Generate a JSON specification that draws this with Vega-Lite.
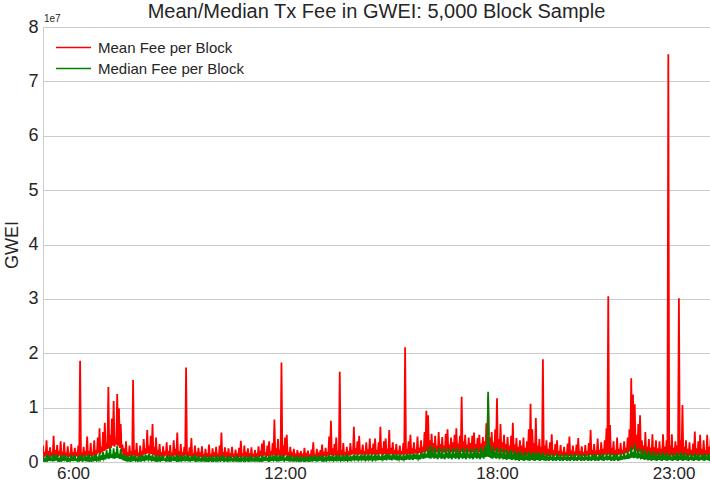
{
  "$schema": "https://vega.github.io/schema/vega-lite/v6.json",
  "width": 667,
  "height": 435,
  "autosize": "none",
  "padding": {"left": 43, "top": 27, "right": 0, "bottom": 27},
  "background": "white",
  "config": {
    "font": "Liberation Sans",
    "view": {"stroke": "#cccccc"},
    "axis": {"labelColor": "#262626", "titleColor": "#262626", "labelFont": "Liberation Sans", "titleFont": "Liberation Sans", "titleFontWeight": "normal", "ticks": false, "domainColor": "#cccccc", "gridColor": "#cccccc"},
    "legend": {"labelFont": "Liberation Sans", "labelColor": "#262626"}
  },
  "title": {"text": "Mean/Median Tx Fee in GWEI: 5,000 Block Sample", "fontSize": 20, "fontWeight": "normal", "color": "#262626", "offset": -8},
  "data": {"values": [
    {"h":5.150,"m":0.30,"d":0.10},{"h":5.175,"m":0.09,"d":0.02},{"h":5.200,"m":0.18,"d":0.05},{"h":5.225,"m":0.11,"d":0.01},
    {"h":5.250,"m":0.40,"d":0.14},{"h":5.275,"m":0.08,"d":0.03},{"h":5.300,"m":0.20,"d":0.07},{"h":5.325,"m":0.10,"d":0.02},
    {"h":5.350,"m":0.27,"d":0.12},{"h":5.375,"m":0.12,"d":0.04},{"h":5.400,"m":0.15,"d":0.06},{"h":5.425,"m":0.09,"d":0.01},
    {"h":5.450,"m":0.48,"d":0.15},{"h":5.475,"m":0.11,"d":0.02},{"h":5.500,"m":0.22,"d":0.08},{"h":5.525,"m":0.08,"d":0.03},
    {"h":5.550,"m":0.31,"d":0.13},{"h":5.575,"m":0.10,"d":0.02},{"h":5.600,"m":0.16,"d":0.05},{"h":5.625,"m":0.12,"d":0.01},
    {"h":5.650,"m":0.38,"d":0.12},{"h":5.675,"m":0.09,"d":0.03},{"h":5.700,"m":0.19,"d":0.07},{"h":5.725,"m":0.11,"d":0.02},
    {"h":5.750,"m":0.36,"d":0.14},{"h":5.775,"m":0.08,"d":0.04},{"h":5.800,"m":0.17,"d":0.06},{"h":5.825,"m":0.10,"d":0.02},
    {"h":5.850,"m":0.29,"d":0.11},{"h":5.875,"m":0.12,"d":0.01},{"h":5.900,"m":0.14,"d":0.05},{"h":5.925,"m":0.09,"d":0.03},
    {"h":5.950,"m":0.33,"d":0.13},{"h":5.975,"m":0.11,"d":0.02},{"h":6.000,"m":0.18,"d":0.07},{"h":6.025,"m":0.08,"d":0.02},
    {"h":6.050,"m":0.26,"d":0.12},{"h":6.075,"m":0.10,"d":0.04},{"h":6.100,"m":0.15,"d":0.05},{"h":6.125,"m":0.12,"d":0.01},
    {"h":6.150,"m":0.30,"d":0.11},{"h":6.175,"m":0.09,"d":0.03},{"h":6.200,"m":1.86,"d":0.08},{"h":6.225,"m":0.11,"d":0.02},
    {"h":6.250,"m":0.17,"d":0.13},{"h":6.275,"m":0.08,"d":0.02},{"h":6.300,"m":0.28,"d":0.06},{"h":6.325,"m":0.10,"d":0.04},
    {"h":6.350,"m":0.16,"d":0.12},{"h":6.375,"m":0.12,"d":0.01},{"h":6.400,"m":0.47,"d":0.07},{"h":6.425,"m":0.09,"d":0.03},
    {"h":6.450,"m":0.20,"d":0.14},{"h":6.475,"m":0.11,"d":0.02},{"h":6.500,"m":0.35,"d":0.06},{"h":6.525,"m":0.10,"d":0.02},
    {"h":6.550,"m":0.18,"d":0.12},{"h":6.575,"m":0.12,"d":0.04},{"h":6.600,"m":0.40,"d":0.08},{"h":6.625,"m":0.11,"d":0.02},
    {"h":6.650,"m":0.22,"d":0.15},{"h":6.675,"m":0.14,"d":0.03},{"h":6.700,"m":0.45,"d":0.07},{"h":6.725,"m":0.16,"d":0.04},
    {"h":6.750,"m":0.62,"d":0.16},{"h":6.775,"m":0.15,"d":0.05},{"h":6.800,"m":0.28,"d":0.09},{"h":6.825,"m":0.18,"d":0.04},
    {"h":6.850,"m":0.55,"d":0.18},{"h":6.875,"m":0.20,"d":0.06},{"h":6.900,"m":0.72,"d":0.10},{"h":6.925,"m":0.22,"d":0.05},
    {"h":6.950,"m":0.35,"d":0.22},{"h":6.975,"m":0.24,"d":0.07},{"h":7.000,"m":1.38,"d":0.12},{"h":7.025,"m":0.25,"d":0.06},
    {"h":7.050,"m":0.50,"d":0.28},{"h":7.075,"m":0.26,"d":0.08},{"h":7.100,"m":0.80,"d":0.14},{"h":7.125,"m":0.30,"d":0.07},
    {"h":7.150,"m":1.12,"d":0.25},{"h":7.175,"m":0.28,"d":0.06},{"h":7.200,"m":0.45,"d":0.13},{"h":7.225,"m":0.32,"d":0.08},
    {"h":7.250,"m":1.25,"d":0.30},{"h":7.275,"m":0.30,"d":0.07},{"h":7.300,"m":0.99,"d":0.15},{"h":7.325,"m":0.26,"d":0.06},
    {"h":7.350,"m":0.70,"d":0.24},{"h":7.375,"m":0.18,"d":0.05},{"h":7.400,"m":0.32,"d":0.10},{"h":7.425,"m":0.12,"d":0.03},
    {"h":7.450,"m":0.25,"d":0.14},{"h":7.475,"m":0.10,"d":0.02},{"h":7.500,"m":0.38,"d":0.07},{"h":7.525,"m":0.09,"d":0.03},
    {"h":7.550,"m":0.18,"d":0.12},{"h":7.575,"m":0.11,"d":0.01},{"h":7.600,"m":0.30,"d":0.06},{"h":7.625,"m":0.08,"d":0.02},
    {"h":7.650,"m":0.20,"d":0.13},{"h":7.675,"m":0.10,"d":0.04},{"h":7.700,"m":1.51,"d":0.08},{"h":7.725,"m":0.12,"d":0.02},
    {"h":7.750,"m":0.22,"d":0.12},{"h":7.775,"m":0.09,"d":0.03},{"h":7.800,"m":0.35,"d":0.06},{"h":7.825,"m":0.11,"d":0.02},
    {"h":7.850,"m":0.17,"d":0.11},{"h":7.875,"m":0.08,"d":0.01},{"h":7.900,"m":0.30,"d":0.07},{"h":7.925,"m":0.10,"d":0.03},
    {"h":7.950,"m":0.20,"d":0.13},{"h":7.975,"m":0.12,"d":0.02},{"h":8.000,"m":0.42,"d":0.08},{"h":8.025,"m":0.14,"d":0.04},
    {"h":8.050,"m":0.25,"d":0.14},{"h":8.075,"m":0.15,"d":0.03},{"h":8.100,"m":0.59,"d":0.09},{"h":8.125,"m":0.16,"d":0.05},
    {"h":8.150,"m":0.30,"d":0.15},{"h":8.175,"m":0.14,"d":0.03},{"h":8.200,"m":0.48,"d":0.08},{"h":8.225,"m":0.15,"d":0.04},
    {"h":8.250,"m":0.70,"d":0.14},{"h":8.275,"m":0.13,"d":0.02},{"h":8.300,"m":0.28,"d":0.07},{"h":8.325,"m":0.11,"d":0.03},
    {"h":8.350,"m":0.45,"d":0.12},{"h":8.375,"m":0.10,"d":0.02},{"h":8.400,"m":0.22,"d":0.06},{"h":8.425,"m":0.09,"d":0.01},
    {"h":8.450,"m":0.33,"d":0.13},{"h":8.475,"m":0.11,"d":0.03},{"h":8.500,"m":0.18,"d":0.07},{"h":8.525,"m":0.08,"d":0.02},
    {"h":8.550,"m":0.29,"d":0.12},{"h":8.575,"m":0.10,"d":0.04},{"h":8.600,"m":0.16,"d":0.05},{"h":8.625,"m":0.12,"d":0.02},
    {"h":8.650,"m":0.36,"d":0.11},{"h":8.675,"m":0.09,"d":0.01},{"h":8.700,"m":0.20,"d":0.07},{"h":8.725,"m":0.11,"d":0.03},
    {"h":8.750,"m":0.31,"d":0.13},{"h":8.775,"m":0.08,"d":0.02},{"h":8.800,"m":0.17,"d":0.06},{"h":8.825,"m":0.10,"d":0.04},
    {"h":8.850,"m":0.40,"d":0.12},{"h":8.875,"m":0.12,"d":0.02},{"h":8.900,"m":0.24,"d":0.07},{"h":8.925,"m":0.11,"d":0.03},
    {"h":8.950,"m":0.54,"d":0.14},{"h":8.975,"m":0.09,"d":0.02},{"h":9.000,"m":0.20,"d":0.06},{"h":9.025,"m":0.10,"d":0.01},
    {"h":9.050,"m":0.33,"d":0.12},{"h":9.075,"m":0.08,"d":0.03},{"h":9.100,"m":0.18,"d":0.07},{"h":9.125,"m":0.11,"d":0.02},
    {"h":9.150,"m":0.28,"d":0.13},{"h":9.175,"m":0.12,"d":0.04},{"h":9.200,"m":1.74,"d":0.08},{"h":9.225,"m":0.10,"d":0.02},
    {"h":9.250,"m":0.19,"d":0.12},{"h":9.275,"m":0.09,"d":0.01},{"h":9.300,"m":0.27,"d":0.06},{"h":9.325,"m":0.11,"d":0.03},
    {"h":9.350,"m":0.44,"d":0.11},{"h":9.375,"m":0.08,"d":0.02},{"h":9.400,"m":0.16,"d":0.07},{"h":9.425,"m":0.10,"d":0.04},
    {"h":9.450,"m":0.30,"d":0.13},{"h":9.475,"m":0.12,"d":0.02},{"h":9.500,"m":0.15,"d":0.06},{"h":9.525,"m":0.09,"d":0.01},
    {"h":9.550,"m":0.26,"d":0.11},{"h":9.575,"m":0.08,"d":0.03},{"h":9.600,"m":0.14,"d":0.05},{"h":9.625,"m":0.10,"d":0.02},
    {"h":9.650,"m":0.29,"d":0.10},{"h":9.675,"m":0.07,"d":0.01},{"h":9.700,"m":0.15,"d":0.06},{"h":9.725,"m":0.09,"d":0.03},
    {"h":9.750,"m":0.24,"d":0.12},{"h":9.775,"m":0.08,"d":0.02},{"h":9.800,"m":0.13,"d":0.05},{"h":9.825,"m":0.10,"d":0.01},
    {"h":9.850,"m":0.32,"d":0.10},{"h":9.875,"m":0.07,"d":0.03},{"h":9.900,"m":0.15,"d":0.06},{"h":9.925,"m":0.09,"d":0.02},
    {"h":9.950,"m":0.25,"d":0.11},{"h":9.975,"m":0.08,"d":0.01},{"h":10.000,"m":0.14,"d":0.05},{"h":10.025,"m":0.10,"d":0.03},
    {"h":10.050,"m":0.28,"d":0.12},{"h":10.075,"m":0.07,"d":0.02},{"h":10.100,"m":0.16,"d":0.06},{"h":10.125,"m":0.09,"d":0.01},
    {"h":10.150,"m":0.30,"d":0.10},{"h":10.175,"m":0.08,"d":0.03},{"h":10.200,"m":0.54,"d":0.07},{"h":10.225,"m":0.10,"d":0.02},
    {"h":10.250,"m":0.18,"d":0.12},{"h":10.275,"m":0.07,"d":0.01},{"h":10.300,"m":0.27,"d":0.05},{"h":10.325,"m":0.09,"d":0.03},
    {"h":10.350,"m":0.14,"d":0.10},{"h":10.375,"m":0.08,"d":0.02},{"h":10.400,"m":0.25,"d":0.06},{"h":10.425,"m":0.10,"d":0.01},
    {"h":10.450,"m":0.13,"d":0.11},{"h":10.475,"m":0.07,"d":0.03},{"h":10.500,"m":0.28,"d":0.05},{"h":10.525,"m":0.09,"d":0.02},
    {"h":10.550,"m":0.15,"d":0.10},{"h":10.575,"m":0.08,"d":0.01},{"h":10.600,"m":0.23,"d":0.06},{"h":10.625,"m":0.10,"d":0.03},
    {"h":10.650,"m":0.13,"d":0.12},{"h":10.675,"m":0.07,"d":0.02},{"h":10.700,"m":0.26,"d":0.05},{"h":10.725,"m":0.09,"d":0.01},
    {"h":10.750,"m":0.39,"d":0.10},{"h":10.775,"m":0.08,"d":0.03},{"h":10.800,"m":0.16,"d":0.06},{"h":10.825,"m":0.10,"d":0.02},
    {"h":10.850,"m":0.30,"d":0.11},{"h":10.875,"m":0.07,"d":0.01},{"h":10.900,"m":0.14,"d":0.05},{"h":10.925,"m":0.09,"d":0.03},
    {"h":10.950,"m":0.25,"d":0.10},{"h":10.975,"m":0.08,"d":0.02},{"h":11.000,"m":0.13,"d":0.06},{"h":11.025,"m":0.10,"d":0.01},
    {"h":11.050,"m":0.27,"d":0.12},{"h":11.075,"m":0.07,"d":0.03},{"h":11.100,"m":0.15,"d":0.05},{"h":11.125,"m":0.09,"d":0.02},
    {"h":11.150,"m":0.22,"d":0.10},{"h":11.175,"m":0.08,"d":0.01},{"h":11.200,"m":0.13,"d":0.06},{"h":11.225,"m":0.10,"d":0.03},
    {"h":11.250,"m":0.29,"d":0.11},{"h":11.275,"m":0.09,"d":0.02},{"h":11.300,"m":0.16,"d":0.05},{"h":11.325,"m":0.11,"d":0.01},
    {"h":11.350,"m":0.34,"d":0.12},{"h":11.375,"m":0.10,"d":0.03},{"h":11.400,"m":0.40,"d":0.07},{"h":11.425,"m":0.12,"d":0.02},
    {"h":11.450,"m":0.18,"d":0.11},{"h":11.475,"m":0.09,"d":0.04},{"h":11.500,"m":0.30,"d":0.06},{"h":11.525,"m":0.11,"d":0.02},
    {"h":11.550,"m":0.38,"d":0.12},{"h":11.575,"m":0.10,"d":0.03},{"h":11.600,"m":0.20,"d":0.07},{"h":11.625,"m":0.12,"d":0.02},
    {"h":11.650,"m":0.35,"d":0.13},{"h":11.675,"m":0.13,"d":0.04},{"h":11.700,"m":0.78,"d":0.08},{"h":11.725,"m":0.11,"d":0.02},
    {"h":11.750,"m":0.25,"d":0.12},{"h":11.775,"m":0.10,"d":0.03},{"h":11.800,"m":0.42,"d":0.07},{"h":11.825,"m":0.12,"d":0.01},
    {"h":11.850,"m":0.22,"d":0.13},{"h":11.875,"m":0.09,"d":0.02},{"h":11.900,"m":1.83,"d":0.08},{"h":11.925,"m":0.11,"d":0.03},
    {"h":11.950,"m":0.30,"d":0.12},{"h":11.975,"m":0.10,"d":0.02},{"h":12.000,"m":0.45,"d":0.06},{"h":12.025,"m":0.12,"d":0.04},
    {"h":12.050,"m":0.50,"d":0.11},{"h":12.075,"m":0.09,"d":0.02},{"h":12.100,"m":0.18,"d":0.07},{"h":12.125,"m":0.08,"d":0.01},
    {"h":12.150,"m":0.28,"d":0.12},{"h":12.175,"m":0.07,"d":0.03},{"h":12.200,"m":0.14,"d":0.05},{"h":12.225,"m":0.09,"d":0.02},
    {"h":12.250,"m":0.24,"d":0.10},{"h":12.275,"m":0.07,"d":0.01},{"h":12.300,"m":0.12,"d":0.06},{"h":12.325,"m":0.08,"d":0.03},
    {"h":12.350,"m":0.22,"d":0.11},{"h":12.375,"m":0.07,"d":0.02},{"h":12.400,"m":0.13,"d":0.05},{"h":12.425,"m":0.09,"d":0.01},
    {"h":12.450,"m":0.20,"d":0.10},{"h":12.475,"m":0.07,"d":0.03},{"h":12.500,"m":0.12,"d":0.06},{"h":12.525,"m":0.08,"d":0.02},
    {"h":12.550,"m":0.26,"d":0.11},{"h":12.575,"m":0.07,"d":0.01},{"h":12.600,"m":0.13,"d":0.05},{"h":12.625,"m":0.09,"d":0.03},
    {"h":12.650,"m":0.21,"d":0.10},{"h":12.675,"m":0.07,"d":0.02},{"h":12.700,"m":0.14,"d":0.06},{"h":12.725,"m":0.08,"d":0.01},
    {"h":12.750,"m":0.23,"d":0.11},{"h":12.775,"m":0.09,"d":0.03},{"h":12.800,"m":0.36,"d":0.07},{"h":12.825,"m":0.08,"d":0.02},
    {"h":12.850,"m":0.15,"d":0.12},{"h":12.875,"m":0.07,"d":0.01},{"h":12.900,"m":0.24,"d":0.06},{"h":12.925,"m":0.09,"d":0.03},
    {"h":12.950,"m":0.14,"d":0.11},{"h":12.975,"m":0.08,"d":0.02},{"h":13.000,"m":0.22,"d":0.07},{"h":13.025,"m":0.10,"d":0.04},
    {"h":13.050,"m":0.32,"d":0.12},{"h":13.075,"m":0.09,"d":0.02},{"h":13.100,"m":0.15,"d":0.06},{"h":13.125,"m":0.11,"d":0.01},
    {"h":13.150,"m":0.26,"d":0.11},{"h":13.175,"m":0.10,"d":0.03},{"h":13.200,"m":0.18,"d":0.07},{"h":13.225,"m":0.12,"d":0.02},
    {"h":13.250,"m":0.47,"d":0.13},{"h":13.275,"m":0.13,"d":0.04},{"h":13.300,"m":0.76,"d":0.08},{"h":13.325,"m":0.12,"d":0.02},
    {"h":13.350,"m":0.25,"d":0.12},{"h":13.375,"m":0.11,"d":0.03},{"h":13.400,"m":0.33,"d":0.07},{"h":13.425,"m":0.12,"d":0.02},
    {"h":13.450,"m":0.45,"d":0.13},{"h":13.475,"m":0.10,"d":0.04},{"h":13.500,"m":0.20,"d":0.08},{"h":13.525,"m":0.11,"d":0.02},
    {"h":13.550,"m":1.66,"d":0.12},{"h":13.575,"m":0.12,"d":0.03},{"h":13.600,"m":0.22,"d":0.07},{"h":13.625,"m":0.10,"d":0.02},
    {"h":13.650,"m":0.35,"d":0.13},{"h":13.675,"m":0.12,"d":0.04},{"h":13.700,"m":0.18,"d":0.08},{"h":13.725,"m":0.11,"d":0.02},
    {"h":13.750,"m":0.28,"d":0.14},{"h":13.775,"m":0.10,"d":0.03},{"h":13.800,"m":0.16,"d":0.07},{"h":13.825,"m":0.12,"d":0.02},
    {"h":13.850,"m":0.35,"d":0.12},{"h":13.875,"m":0.13,"d":0.04},{"h":13.900,"m":0.22,"d":0.08},{"h":13.925,"m":0.14,"d":0.03},
    {"h":13.950,"m":0.65,"d":0.13},{"h":13.975,"m":0.13,"d":0.05},{"h":14.000,"m":0.25,"d":0.09},{"h":14.025,"m":0.14,"d":0.03},
    {"h":14.050,"m":0.38,"d":0.14},{"h":14.075,"m":0.13,"d":0.04},{"h":14.100,"m":0.48,"d":0.08},{"h":14.125,"m":0.14,"d":0.03},
    {"h":14.150,"m":0.22,"d":0.13},{"h":14.175,"m":0.13,"d":0.05},{"h":14.200,"m":0.32,"d":0.09},{"h":14.225,"m":0.14,"d":0.03},
    {"h":14.250,"m":0.20,"d":0.15},{"h":14.275,"m":0.12,"d":0.04},{"h":14.300,"m":0.36,"d":0.08},{"h":14.325,"m":0.14,"d":0.03},
    {"h":14.350,"m":0.23,"d":0.14},{"h":14.375,"m":0.13,"d":0.05},{"h":14.400,"m":0.43,"d":0.09},{"h":14.425,"m":0.15,"d":0.03},
    {"h":14.450,"m":0.25,"d":0.15},{"h":14.475,"m":0.13,"d":0.04},{"h":14.500,"m":0.34,"d":0.08},{"h":14.525,"m":0.14,"d":0.03},
    {"h":14.550,"m":0.43,"d":0.14},{"h":14.575,"m":0.13,"d":0.05},{"h":14.600,"m":0.22,"d":0.09},{"h":14.625,"m":0.14,"d":0.03},
    {"h":14.650,"m":0.36,"d":0.15},{"h":14.675,"m":0.15,"d":0.04},{"h":14.700,"m":0.65,"d":0.10},{"h":14.725,"m":0.14,"d":0.03},
    {"h":14.750,"m":0.25,"d":0.14},{"h":14.775,"m":0.13,"d":0.05},{"h":14.800,"m":0.38,"d":0.09},{"h":14.825,"m":0.15,"d":0.04},
    {"h":14.850,"m":0.43,"d":0.15},{"h":14.875,"m":0.14,"d":0.03},{"h":14.900,"m":0.24,"d":0.10},{"h":14.925,"m":0.13,"d":0.05},
    {"h":14.950,"m":0.59,"d":0.14},{"h":14.975,"m":0.14,"d":0.04},{"h":15.000,"m":0.26,"d":0.09},{"h":15.025,"m":0.15,"d":0.03},
    {"h":15.050,"m":0.36,"d":0.15},{"h":15.075,"m":0.13,"d":0.05},{"h":15.100,"m":0.22,"d":0.10},{"h":15.125,"m":0.14,"d":0.04},
    {"h":15.150,"m":0.33,"d":0.14},{"h":15.175,"m":0.13,"d":0.03},{"h":15.200,"m":0.21,"d":0.09},{"h":15.225,"m":0.14,"d":0.05},
    {"h":15.250,"m":0.30,"d":0.15},{"h":15.275,"m":0.12,"d":0.04},{"h":15.300,"m":0.20,"d":0.10},{"h":15.325,"m":0.14,"d":0.03},
    {"h":15.350,"m":0.35,"d":0.14},{"h":15.375,"m":0.13,"d":0.05},{"h":15.400,"m":2.11,"d":0.09},{"h":15.425,"m":0.14,"d":0.04},
    {"h":15.450,"m":0.24,"d":0.15},{"h":15.475,"m":0.15,"d":0.05},{"h":15.500,"m":0.38,"d":0.10},{"h":15.525,"m":0.14,"d":0.04},
    {"h":15.550,"m":0.50,"d":0.16},{"h":15.575,"m":0.15,"d":0.05},{"h":15.600,"m":0.25,"d":0.10},{"h":15.625,"m":0.14,"d":0.04},
    {"h":15.650,"m":0.36,"d":0.15},{"h":15.675,"m":0.16,"d":0.06},{"h":15.700,"m":0.23,"d":0.11},{"h":15.725,"m":0.15,"d":0.05},
    {"h":15.750,"m":0.47,"d":0.16},{"h":15.775,"m":0.16,"d":0.06},{"h":15.800,"m":0.26,"d":0.10},{"h":15.825,"m":0.17,"d":0.05},
    {"h":15.850,"m":0.40,"d":0.17},{"h":15.875,"m":0.16,"d":0.07},{"h":15.900,"m":0.28,"d":0.12},{"h":15.925,"m":0.18,"d":0.06},
    {"h":15.950,"m":0.55,"d":0.20},{"h":15.975,"m":0.18,"d":0.07},{"h":16.000,"m":0.94,"d":0.15},{"h":16.025,"m":0.20,"d":0.08},
    {"h":16.050,"m":0.86,"d":0.28},{"h":16.075,"m":0.18,"d":0.07},{"h":16.100,"m":0.40,"d":0.18},{"h":16.125,"m":0.17,"d":0.06},
    {"h":16.150,"m":0.52,"d":0.30},{"h":16.175,"m":0.19,"d":0.08},{"h":16.200,"m":0.35,"d":0.17},{"h":16.225,"m":0.16,"d":0.06},
    {"h":16.250,"m":0.48,"d":0.26},{"h":16.275,"m":0.18,"d":0.07},{"h":16.300,"m":0.30,"d":0.15},{"h":16.325,"m":0.17,"d":0.05},
    {"h":16.350,"m":0.55,"d":0.27},{"h":16.375,"m":0.19,"d":0.08},{"h":16.400,"m":0.33,"d":0.16},{"h":16.425,"m":0.16,"d":0.06},
    {"h":16.450,"m":0.46,"d":0.25},{"h":16.475,"m":0.18,"d":0.07},{"h":16.500,"m":0.30,"d":0.14},{"h":16.525,"m":0.17,"d":0.05},
    {"h":16.550,"m":0.52,"d":0.26},{"h":16.575,"m":0.19,"d":0.08},{"h":16.600,"m":0.60,"d":0.17},{"h":16.625,"m":0.18,"d":0.06},
    {"h":16.650,"m":0.32,"d":0.24},{"h":16.675,"m":0.16,"d":0.07},{"h":16.700,"m":0.45,"d":0.15},{"h":16.725,"m":0.18,"d":0.05},
    {"h":16.750,"m":0.36,"d":0.25},{"h":16.775,"m":0.17,"d":0.08},{"h":16.800,"m":0.50,"d":0.16},{"h":16.825,"m":0.19,"d":0.06},
    {"h":16.850,"m":0.62,"d":0.27},{"h":16.875,"m":0.18,"d":0.07},{"h":16.900,"m":0.34,"d":0.17},{"h":16.925,"m":0.16,"d":0.05},
    {"h":16.950,"m":0.48,"d":0.24},{"h":16.975,"m":0.18,"d":0.08},{"h":17.000,"m":1.20,"d":0.16},{"h":17.025,"m":0.19,"d":0.06},
    {"h":17.050,"m":0.38,"d":0.26},{"h":17.075,"m":0.17,"d":0.07},{"h":17.100,"m":0.50,"d":0.17},{"h":17.125,"m":0.18,"d":0.05},
    {"h":17.150,"m":0.32,"d":0.25},{"h":17.175,"m":0.16,"d":0.08},{"h":17.200,"m":0.45,"d":0.15},{"h":17.225,"m":0.19,"d":0.06},
    {"h":17.250,"m":0.35,"d":0.24},{"h":17.275,"m":0.17,"d":0.07},{"h":17.300,"m":0.48,"d":0.16},{"h":17.325,"m":0.18,"d":0.05},
    {"h":17.350,"m":0.54,"d":0.26},{"h":17.375,"m":0.16,"d":0.08},{"h":17.400,"m":0.33,"d":0.17},{"h":17.425,"m":0.19,"d":0.06},
    {"h":17.450,"m":0.44,"d":0.25},{"h":17.475,"m":0.18,"d":0.07},{"h":17.500,"m":0.50,"d":0.16},{"h":17.525,"m":0.17,"d":0.05},
    {"h":17.550,"m":0.34,"d":0.27},{"h":17.575,"m":0.19,"d":0.08},{"h":17.600,"m":0.46,"d":0.18},{"h":17.625,"m":0.18,"d":0.06},
    {"h":17.650,"m":0.38,"d":0.28},{"h":17.675,"m":0.20,"d":0.09},{"h":17.700,"m":0.71,"d":0.30},{"h":17.725,"m":0.22,"d":0.10},
    {"h":17.750,"m":1.20,"d":1.29},{"h":17.775,"m":0.20,"d":0.09},{"h":17.800,"m":0.45,"d":0.32},{"h":17.825,"m":0.19,"d":0.07},
    {"h":17.850,"m":0.55,"d":0.20},{"h":17.875,"m":0.18,"d":0.06},{"h":17.900,"m":0.36,"d":0.28},{"h":17.925,"m":0.20,"d":0.08},
    {"h":17.950,"m":0.60,"d":0.18},{"h":17.975,"m":0.19,"d":0.06},{"h":18.000,"m":1.17,"d":0.26},{"h":18.025,"m":0.18,"d":0.07},
    {"h":18.050,"m":0.42,"d":0.17},{"h":18.075,"m":0.17,"d":0.05},{"h":18.100,"m":0.70,"d":0.25},{"h":18.125,"m":0.18,"d":0.07},
    {"h":18.150,"m":0.36,"d":0.16},{"h":18.175,"m":0.16,"d":0.05},{"h":18.200,"m":0.50,"d":0.24},{"h":18.225,"m":0.17,"d":0.06},
    {"h":18.250,"m":0.33,"d":0.15},{"h":18.275,"m":0.15,"d":0.04},{"h":18.300,"m":0.46,"d":0.23},{"h":18.325,"m":0.16,"d":0.06},
    {"h":18.350,"m":0.30,"d":0.16},{"h":18.375,"m":0.15,"d":0.05},{"h":18.400,"m":0.48,"d":0.22},{"h":18.425,"m":0.16,"d":0.04},
    {"h":18.450,"m":0.72,"d":0.15},{"h":18.475,"m":0.14,"d":0.05},{"h":18.500,"m":0.32,"d":0.21},{"h":18.525,"m":0.13,"d":0.03},
    {"h":18.550,"m":0.44,"d":0.14},{"h":18.575,"m":0.12,"d":0.04},{"h":18.600,"m":0.28,"d":0.20},{"h":18.625,"m":0.13,"d":0.02},
    {"h":18.650,"m":0.40,"d":0.13},{"h":18.675,"m":0.11,"d":0.04},{"h":18.700,"m":0.30,"d":0.19},{"h":18.725,"m":0.12,"d":0.03},
    {"h":18.750,"m":0.45,"d":0.12},{"h":18.775,"m":0.11,"d":0.02},{"h":18.800,"m":0.26,"d":0.18},{"h":18.825,"m":0.12,"d":0.04},
    {"h":18.850,"m":0.38,"d":0.12},{"h":18.875,"m":0.13,"d":0.03},{"h":18.900,"m":0.60,"d":0.19},{"h":18.925,"m":0.12,"d":0.02},
    {"h":18.950,"m":1.07,"d":0.13},{"h":18.975,"m":0.13,"d":0.04},{"h":19.000,"m":0.60,"d":0.18},{"h":19.025,"m":0.12,"d":0.03},
    {"h":19.050,"m":0.35,"d":0.12},{"h":19.075,"m":0.11,"d":0.02},{"h":19.100,"m":0.81,"d":0.19},{"h":19.125,"m":0.12,"d":0.04},
    {"h":19.150,"m":0.30,"d":0.13},{"h":19.175,"m":0.13,"d":0.03},{"h":19.200,"m":0.42,"d":0.18},{"h":19.225,"m":0.11,"d":0.02},
    {"h":19.250,"m":0.28,"d":0.12},{"h":19.275,"m":0.12,"d":0.04},{"h":19.300,"m":1.89,"d":0.17},{"h":19.325,"m":0.11,"d":0.03},
    {"h":19.350,"m":0.30,"d":0.11},{"h":19.375,"m":0.12,"d":0.02},{"h":19.400,"m":0.40,"d":0.16},{"h":19.425,"m":0.10,"d":0.03},
    {"h":19.450,"m":0.24,"d":0.10},{"h":19.475,"m":0.11,"d":0.02},{"h":19.500,"m":0.36,"d":0.16},{"h":19.525,"m":0.12,"d":0.04},
    {"h":19.550,"m":0.51,"d":0.10},{"h":19.575,"m":0.10,"d":0.02},{"h":19.600,"m":0.22,"d":0.15},{"h":19.625,"m":0.11,"d":0.03},
    {"h":19.650,"m":0.33,"d":0.09},{"h":19.675,"m":0.12,"d":0.02},{"h":19.700,"m":0.40,"d":0.15},{"h":19.725,"m":0.10,"d":0.04},
    {"h":19.750,"m":0.20,"d":0.10},{"h":19.775,"m":0.11,"d":0.02},{"h":19.800,"m":0.31,"d":0.14},{"h":19.825,"m":0.12,"d":0.03},
    {"h":19.850,"m":0.19,"d":0.09},{"h":19.875,"m":0.10,"d":0.02},{"h":19.900,"m":0.28,"d":0.14},{"h":19.925,"m":0.11,"d":0.04},
    {"h":19.950,"m":0.18,"d":0.10},{"h":19.975,"m":0.12,"d":0.02},{"h":20.000,"m":0.34,"d":0.15},{"h":20.025,"m":0.10,"d":0.03},
    {"h":20.050,"m":0.47,"d":0.09},{"h":20.075,"m":0.11,"d":0.02},{"h":20.100,"m":0.21,"d":0.14},{"h":20.125,"m":0.12,"d":0.04},
    {"h":20.150,"m":0.30,"d":0.10},{"h":20.175,"m":0.10,"d":0.02},{"h":20.200,"m":0.19,"d":0.15},{"h":20.225,"m":0.11,"d":0.03},
    {"h":20.250,"m":0.32,"d":0.09},{"h":20.275,"m":0.12,"d":0.02},{"h":20.300,"m":0.44,"d":0.14},{"h":20.325,"m":0.10,"d":0.04},
    {"h":20.350,"m":0.20,"d":0.10},{"h":20.375,"m":0.11,"d":0.02},{"h":20.400,"m":0.29,"d":0.15},{"h":20.425,"m":0.12,"d":0.03},
    {"h":20.450,"m":0.18,"d":0.09},{"h":20.475,"m":0.10,"d":0.02},{"h":20.500,"m":0.31,"d":0.14},{"h":20.525,"m":0.11,"d":0.04},
    {"h":20.550,"m":0.20,"d":0.10},{"h":20.575,"m":0.12,"d":0.02},{"h":20.600,"m":0.35,"d":0.15},{"h":20.625,"m":0.13,"d":0.03},
    {"h":20.650,"m":0.59,"d":0.10},{"h":20.675,"m":0.12,"d":0.02},{"h":20.700,"m":0.22,"d":0.14},{"h":20.725,"m":0.11,"d":0.04},
    {"h":20.750,"m":0.33,"d":0.09},{"h":20.775,"m":0.12,"d":0.02},{"h":20.800,"m":0.21,"d":0.15},{"h":20.825,"m":0.13,"d":0.03},
    {"h":20.850,"m":0.43,"d":0.10},{"h":20.875,"m":0.12,"d":0.02},{"h":20.900,"m":0.22,"d":0.14},{"h":20.925,"m":0.11,"d":0.04},
    {"h":20.950,"m":0.36,"d":0.09},{"h":20.975,"m":0.13,"d":0.03},{"h":21.000,"m":0.24,"d":0.15},{"h":21.025,"m":0.12,"d":0.02},
    {"h":21.050,"m":0.40,"d":0.10},{"h":21.075,"m":0.14,"d":0.04},{"h":21.100,"m":0.62,"d":0.16},{"h":21.125,"m":0.13,"d":0.03},
    {"h":21.150,"m":3.05,"d":0.11},{"h":21.175,"m":0.14,"d":0.04},{"h":21.200,"m":0.68,"d":0.17},{"h":21.225,"m":0.12,"d":0.02},
    {"h":21.250,"m":0.26,"d":0.10},{"h":21.275,"m":0.13,"d":0.03},{"h":21.300,"m":0.38,"d":0.15},{"h":21.325,"m":0.11,"d":0.02},
    {"h":21.350,"m":0.22,"d":0.09},{"h":21.375,"m":0.12,"d":0.04},{"h":21.400,"m":0.45,"d":0.15},{"h":21.425,"m":0.13,"d":0.02},
    {"h":21.450,"m":0.24,"d":0.10},{"h":21.475,"m":0.14,"d":0.03},{"h":21.500,"m":0.35,"d":0.16},{"h":21.525,"m":0.13,"d":0.04},
    {"h":21.550,"m":0.22,"d":0.11},{"h":21.575,"m":0.15,"d":0.05},{"h":21.600,"m":0.38,"d":0.17},{"h":21.625,"m":0.16,"d":0.05},
    {"h":21.650,"m":0.26,"d":0.12},{"h":21.675,"m":0.17,"d":0.06},{"h":21.700,"m":0.45,"d":0.20},{"h":21.725,"m":0.18,"d":0.06},
    {"h":21.750,"m":0.60,"d":0.15},{"h":21.775,"m":0.20,"d":0.07},{"h":21.800,"m":1.54,"d":0.28},{"h":21.825,"m":0.22,"d":0.08},
    {"h":21.850,"m":1.24,"d":0.18},{"h":21.875,"m":0.24,"d":0.07},{"h":21.900,"m":1.06,"d":0.32},{"h":21.925,"m":0.20,"d":0.08},
    {"h":21.950,"m":0.50,"d":0.17},{"h":21.975,"m":0.18,"d":0.06},{"h":22.000,"m":0.70,"d":0.25},{"h":22.025,"m":0.19,"d":0.07},
    {"h":22.050,"m":0.86,"d":0.16},{"h":22.075,"m":0.17,"d":0.05},{"h":22.100,"m":0.40,"d":0.24},{"h":22.125,"m":0.15,"d":0.06},
    {"h":22.150,"m":0.30,"d":0.14},{"h":22.175,"m":0.14,"d":0.04},{"h":22.200,"m":0.55,"d":0.22},{"h":22.225,"m":0.13,"d":0.05},
    {"h":22.250,"m":0.28,"d":0.13},{"h":22.275,"m":0.12,"d":0.03},{"h":22.300,"m":0.42,"d":0.20},{"h":22.325,"m":0.13,"d":0.04},
    {"h":22.350,"m":0.26,"d":0.12},{"h":22.375,"m":0.11,"d":0.02},{"h":22.400,"m":0.51,"d":0.19},{"h":22.425,"m":0.12,"d":0.04},
    {"h":22.450,"m":0.27,"d":0.12},{"h":22.475,"m":0.11,"d":0.03},{"h":22.500,"m":0.40,"d":0.18},{"h":22.525,"m":0.12,"d":0.02},
    {"h":22.550,"m":0.25,"d":0.11},{"h":22.575,"m":0.10,"d":0.04},{"h":22.600,"m":0.38,"d":0.17},{"h":22.625,"m":0.12,"d":0.03},
    {"h":22.650,"m":0.24,"d":0.11},{"h":22.675,"m":0.11,"d":0.02},{"h":22.700,"m":0.51,"d":0.18},{"h":22.725,"m":0.12,"d":0.04},
    {"h":22.750,"m":0.28,"d":0.12},{"h":22.775,"m":0.10,"d":0.03},{"h":22.800,"m":0.40,"d":0.17},{"h":22.825,"m":0.12,"d":0.02},
    {"h":22.850,"m":7.50,"d":0.11},{"h":22.875,"m":0.11,"d":0.04},{"h":22.900,"m":0.30,"d":0.16},{"h":22.925,"m":0.12,"d":0.03},
    {"h":22.950,"m":0.51,"d":0.10},{"h":22.975,"m":0.10,"d":0.02},{"h":23.000,"m":0.26,"d":0.16},{"h":23.025,"m":0.12,"d":0.04},
    {"h":23.050,"m":0.38,"d":0.11},{"h":23.075,"m":0.11,"d":0.03},{"h":23.100,"m":0.30,"d":0.17},{"h":23.125,"m":0.12,"d":0.02},
    {"h":23.150,"m":3.01,"d":0.12},{"h":23.175,"m":0.13,"d":0.04},{"h":23.200,"m":0.40,"d":0.18},{"h":23.225,"m":0.12,"d":0.03},
    {"h":23.250,"m":1.05,"d":0.12},{"h":23.275,"m":0.11,"d":0.02},{"h":23.300,"m":0.28,"d":0.17},{"h":23.325,"m":0.12,"d":0.04},
    {"h":23.350,"m":0.40,"d":0.11},{"h":23.375,"m":0.10,"d":0.03},{"h":23.400,"m":0.24,"d":0.16},{"h":23.425,"m":0.11,"d":0.02},
    {"h":23.450,"m":0.36,"d":0.10},{"h":23.475,"m":0.12,"d":0.04},{"h":23.500,"m":0.22,"d":0.15},{"h":23.525,"m":0.10,"d":0.03},
    {"h":23.550,"m":0.34,"d":0.10},{"h":23.575,"m":0.11,"d":0.02},{"h":23.600,"m":0.56,"d":0.16},{"h":23.625,"m":0.12,"d":0.04},
    {"h":23.650,"m":0.25,"d":0.11},{"h":23.675,"m":0.10,"d":0.03},{"h":23.700,"m":0.38,"d":0.16},{"h":23.725,"m":0.11,"d":0.02},
    {"h":23.750,"m":0.50,"d":0.10},{"h":23.775,"m":0.12,"d":0.04},{"h":23.800,"m":0.24,"d":0.15},{"h":23.825,"m":0.10,"d":0.03},
    {"h":23.850,"m":0.40,"d":0.11},{"h":23.875,"m":0.11,"d":0.02},{"h":23.900,"m":0.22,"d":0.16},{"h":23.925,"m":0.12,"d":0.04},
    {"h":23.950,"m":0.50,"d":0.10},{"h":23.975,"m":0.10,"d":0.03},{"h":24.000,"m":0.28,"d":0.15},{"h":24.025,"m":0.11,"d":0.02},
    {"h":24.050,"m":0.45,"d":0.11}
  ]},
  "layer": [
    {
      "mark": {"type": "line", "strokeWidth": 1.8, "clip": true},
      "encoding": {
        "x": {
          "field": "h",
          "type": "quantitative",
          "scale": {"domain": [5.15, 24.03], "nice": false, "zero": false},
          "axis": {"title": null, "values": [6, 12, 18, 23], "labelExpr": "datum.value + ':00'", "grid": false, "domain": false, "labelFontSize": 17, "labelPadding": 3}
        },
        "y": {"field": "m", "type": "quantitative", "scale": {"domain": [0, 8], "nice": false},
          "axis": {"title": "GWEI", "values": [0, 1, 2, 3, 4, 5, 6, 7, 8], "format": "d", "labelFontSize": 18, "titleFontSize": 18, "labelPadding": 5, "titlePadding": 6, "domain": true}},
        "color": {"datum": "Mean Fee per Block",
          "scale": {"domain": ["Mean Fee per Block", "Median Fee per Block"], "range": ["#ff0000", "#008000"]},
          "legend": {"title": null, "orient": "none", "legendX": 12, "legendY": 10, "padding": 0, "symbolType": "stroke", "symbolStrokeWidth": 1.5, "symbolSize": 1225, "labelFontSize": 15, "clipHeight": 21, "rowPadding": 0, "labelOffset": 6}}
      }
    },
    {
      "mark": {"type": "line", "strokeWidth": 1.8, "clip": true},
      "encoding": {
        "x": {"field": "h", "type": "quantitative"},
        "y": {"field": "d", "type": "quantitative", "axis": {"title": "GWEI"}},
        "color": {"datum": "Median Fee per Block"}
      }
    },
    {
      "data": {"values": [{}]},
      "mark": {"type": "text", "text": "1e7", "align": "left", "baseline": "bottom", "dx": 1, "dy": -3, "fontSize": 10, "color": "#262626"},
      "encoding": {
        "x": {"datum": 5.15, "type": "quantitative"},
        "y": {"datum": 8, "type": "quantitative"}
      }
    }
  ]
}
